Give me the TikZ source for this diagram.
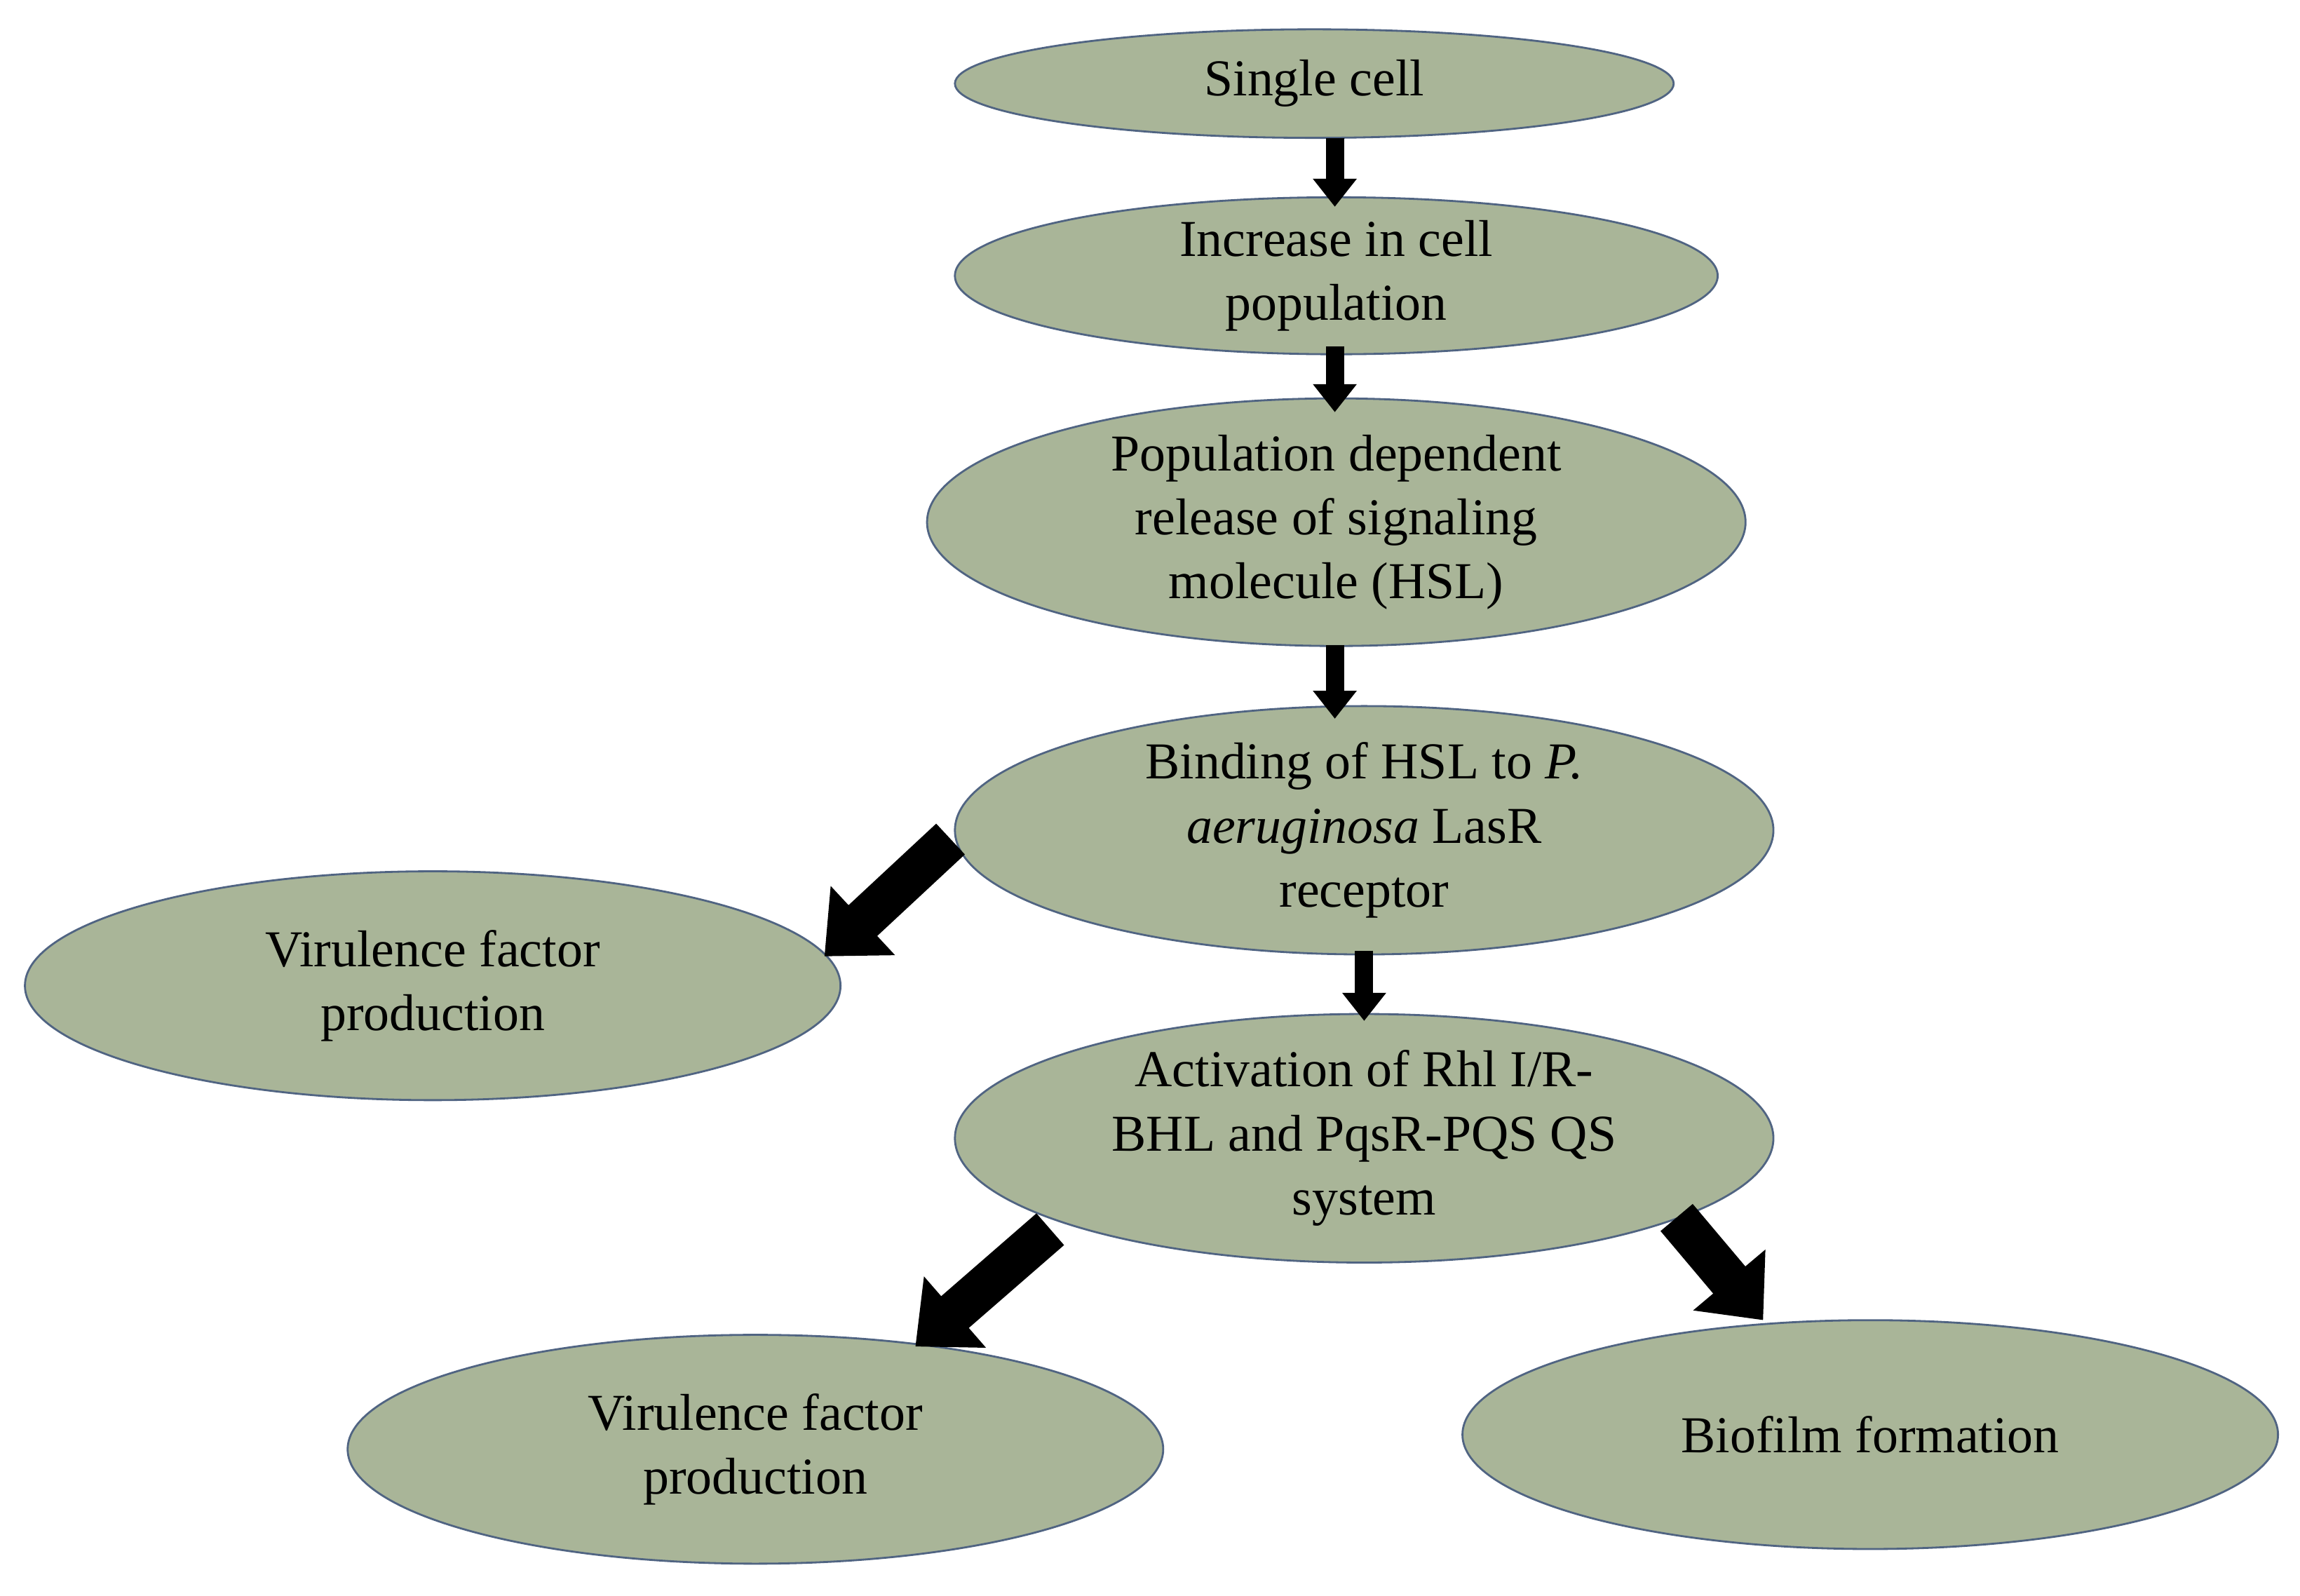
\documentclass[tikz,border=0pt]{standalone}
\usepackage{fontspec}
\setmainfont{Liberation Serif}
\usetikzlibrary{shapes.geometric,arrows.meta}
\definecolor{fillg}{RGB}{169,181,152}
\definecolor{edgeb}{RGB}{80,100,130}
\begin{document}
\begin{tikzpicture}[x=0.02092cm,y=-0.02092cm,
 el/.style={ellipse,draw=edgeb,line width=0.8pt,fill=fillg,inner sep=0pt,align=center,font=\fontsize{21}{26}\selectfont},
 arS/.style={line width=0.26cm,-{Triangle[width=0.6cm,length=0.4cm]}},
 arB/.style={line width=0.6cm,-{Triangle[width=1.3cm,length=0.75cm]}}]
\useasboundingbox (0,0) rectangle (1568,1088);
\node[el,minimum width=490*0.02092cm,minimum height=74*0.02092cm] (n1) at (896,57) {Single cell};
\node[el,minimum width=520*0.02092cm,minimum height=96*0.02092cm] (n2) at (911,188) {Increase in cell\\population};
\node[el,minimum width=558*0.02092cm,minimum height=160*0.02092cm] (n3) at (911,356) {Population dependent\\release of signaling\\molecule (HSL)};
\node[el,minimum width=558*0.02092cm,minimum height=156*0.02092cm] (n4) at (930,566) {Binding of HSL to \textit{P.}\\\textit{aeruginosa} LasR\\receptor};
\node[el,minimum width=556*0.02092cm,minimum height=156*0.02092cm] (n5) at (295,672) {Virulence factor\\production};
\node[el,minimum width=558*0.02092cm,minimum height=156*0.02092cm] (n6) at (930,776) {Activation of Rhl I/R-\\BHL and PqsR-PQS QS\\system};
\node[el,minimum width=556*0.02092cm,minimum height=156*0.02092cm] (n7) at (515,988) {Virulence factor\\production};
\node[el,minimum width=556*0.02092cm,minimum height=156*0.02092cm] (n8) at (1275,978) {Biofilm formation};
\coordinate (a1) at (910,94); \coordinate (b1) at (910,141);
\coordinate (a2) at (910,236); \coordinate (b2) at (910,281);
\coordinate (a3) at (910,440); \coordinate (b3) at (910,490);
\coordinate (a4) at (648,572); \coordinate (b4) at (562,652);
\coordinate (a5) at (930,648); \coordinate (b5) at (930,696);
\coordinate (a6) at (716,838); \coordinate (b6) at (624,918);
\coordinate (a7) at (1143,830); \coordinate (b7) at (1202,900);
\draw[arS] (a1) -- (b1);
\draw[arS] (a2) -- (b2);
\draw[arS] (a3) -- (b3);
\draw[arB] (a4) -- (b4);
\draw[arS] (a5) -- (b5);
\draw[arB] (a6) -- (b6);
\draw[arB] (a7) -- (b7);
\end{tikzpicture}
\end{document}
